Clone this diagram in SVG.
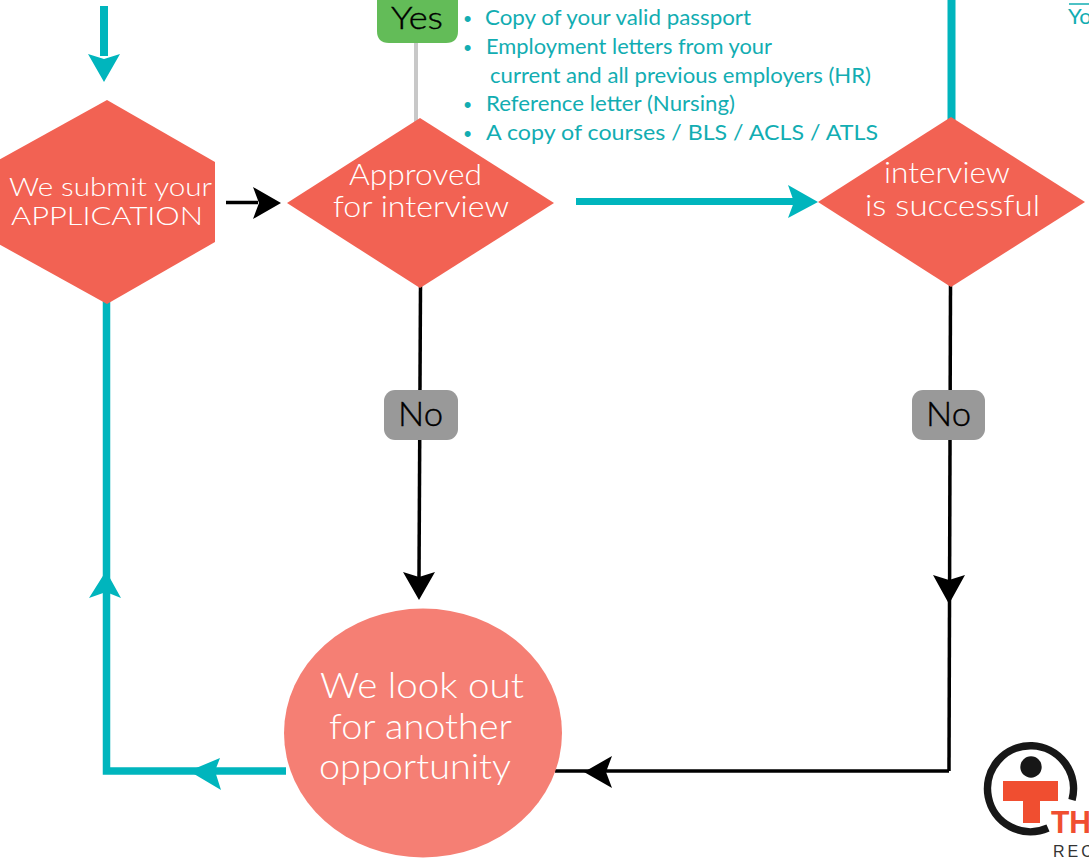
<svg xmlns="http://www.w3.org/2000/svg" width="1089" height="859" viewBox="0 0 1089 859">
<style>
.t{stroke:#00b5bd;stroke-width:8;fill:none}
.k{stroke:#000;stroke-width:3.5;fill:none}
.ta{fill:#00b5bd}
.ka{fill:#000}
.n{fill:#f26253}
.w{font-family:"Lato","Liberation Sans",sans-serif;font-weight:300;fill:#fff}
.l{font-family:"Lato","Liberation Sans",sans-serif;font-size:22px;fill:#12adb2}
.b{font-family:"Liberation Sans",sans-serif;font-size:22px;fill:#12adb2;text-anchor:middle}
.d{font-family:"Lato","Liberation Sans",sans-serif;font-weight:300;fill:#000;stroke:#000;stroke-width:.4}
</style>
<rect width="1089" height="859" fill="#fff"/>
<g id="connectors">
<path class="t" d="M104 6V56"/>
<path class="ta" d="M88 54L104 59L120 54L104 82Z"/>
<path class="k" d="M226 202.500H258"/>
<path class="ka" d="M253 187L281 203L253 219L259 203Z"/>
<path d="M416 40V125" stroke="#c8c8c8" stroke-width="4" fill="none"/>
<path d="M576 201.500H795" stroke="#00b5bd" stroke-width="7" fill="none"/>
<path class="ta" d="M788 185L818 202L788 218L794 202Z"/>
<path class="t" d="M951.500 0V120"/>
<path class="k" d="M420.500 285L419 578"/>
<path class="ka" d="M403 572L419 577L435 572L419 600Z"/>
<path class="k" d="M950.500 285L949 771"/>
<path class="ka" d="M933 575L949 580L965 575L949 604Z"/>
<path class="k" d="M949 771H555"/>
<path class="ka" d="M612 756L606 772L612 788L584 772Z"/>
<path d="M286 771H106.500V300" stroke="#00b5bd" stroke-width="7.500" fill="none"/>
<path class="ta" d="M220 758L215 771L221 790L189 771Z"/>
<path class="ta" d="M89 598L106 571L121 598L106 592Z"/>
</g>
<g id="yes"><path d="M377 0H458V31Q458 43 446 43H389Q377 43 377 31Z" fill="#63bc58"/><text x="391" y="29" class="d" font-size="32" textLength="52" lengthAdjust="spacingAndGlyphs">Yes</text></g>
<g id="submit"><path class="n" d="M107 100L215 162V242L107 304L-5 242V162Z"/><text x="9" y="196" class="w" font-size="26" textLength="203" lengthAdjust="spacingAndGlyphs">We submit your</text><text x="11" y="225" class="w" font-size="26" textLength="192" lengthAdjust="spacingAndGlyphs">APPLICATION</text></g>
<g id="approved"><path class="n" d="M420 118L554 203L420 288L287 203Z"/><text x="349" y="185" class="w" font-size="29" textLength="133" lengthAdjust="spacingAndGlyphs">Approved</text><text x="333" y="217" class="w" font-size="29" textLength="176" lengthAdjust="spacingAndGlyphs">for interview</text></g>
<g id="successful"><path class="n" d="M951 117L1085 202L951 287L818 202Z"/><text x="884" y="183" class="w" font-size="29" textLength="126" lengthAdjust="spacingAndGlyphs">interview</text><text x="865" y="216" class="w" font-size="29" textLength="175" lengthAdjust="spacingAndGlyphs">is successful</text></g>
<g id="no1"><rect x="384" y="390" width="74" height="50" rx="11" fill="#999"/><text x="398" y="426" class="d" font-size="33" textLength="45" lengthAdjust="spacingAndGlyphs">No</text></g>
<g id="no2"><rect x="912" y="390" width="73" height="50" rx="11" fill="#999"/><text x="926" y="426" class="d" font-size="33" textLength="45" lengthAdjust="spacingAndGlyphs">No</text></g>
<g id="lookout"><ellipse cx="423" cy="733" rx="139" ry="124.500" fill="#f57f74"/><text x="320" y="698" class="w" font-size="36" textLength="204" lengthAdjust="spacingAndGlyphs">We look out</text><text x="329" y="739" class="w" font-size="36" textLength="183" lengthAdjust="spacingAndGlyphs">for another</text><text x="319" y="779" class="w" font-size="36" textLength="192" lengthAdjust="spacingAndGlyphs">opportunity</text></g>
<g id="requirements">
<text x="467.500" y="26" class="b">•</text><text x="485" y="25" class="l" textLength="266" lengthAdjust="spacingAndGlyphs">Copy of your valid passport</text>
<text x="467.500" y="55" class="b">•</text><text x="486" y="54" class="l" textLength="286" lengthAdjust="spacingAndGlyphs">Employment letters from your</text>
<text x="490" y="83" class="l" textLength="381" lengthAdjust="spacingAndGlyphs">current and all previous employers (HR)</text>
<text x="467.500" y="112" class="b">•</text><text x="486" y="111" class="l" textLength="249" lengthAdjust="spacingAndGlyphs">Reference letter (Nursing)</text>
<text x="467.500" y="141" class="b">•</text><text x="486" y="140" class="l" textLength="392" lengthAdjust="spacingAndGlyphs">A copy of courses / BLS / ACLS / ATLS</text>
<path d="M1069 4H1089" stroke="#12adb2" stroke-width="1.500"/>
<text x="1068" y="24" class="l">Yo</text>
</g>
<g id="logo">
<path d="M1048 828A43 43 0 1 1 1072 800" fill="none" stroke="#171717" stroke-width="7.500"/>
<circle cx="1031" cy="767" r="10.700" fill="#171717"/>
<path d="M1003 781H1058V801H1040V823H1023V801H1003Z" fill="#f04e30"/>
<text x="1051" y="833" font-family="Liberation Sans,sans-serif" font-weight="700" font-size="32" fill="#f04e30" textLength="40" lengthAdjust="spacingAndGlyphs">TH</text>
<text x="1053" y="857" font-family="Liberation Sans,sans-serif" font-size="16" letter-spacing="3" fill="#333">REC</text>
</g>
</svg>
